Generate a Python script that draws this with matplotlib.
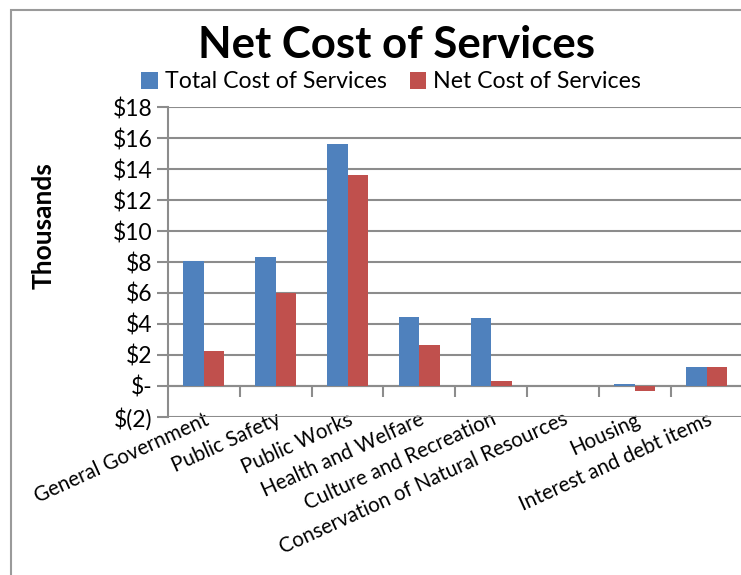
import matplotlib
matplotlib.use("Agg")
import matplotlib.pyplot as plt
from matplotlib.patches import Rectangle
from matplotlib.ticker import FixedLocator, FuncFormatter
import numpy as np

categories = [
    "General Government",
    "Public Safety",
    "Public Works",
    "Health and Welfare",
    "Culture and Recreation",
    "Conservation of Natural Resources",
    "Housing",
    "Interest and debt items",
]
total_cost = [8.05, 8.3, 15.65, 4.45, 4.35, 0.0, 0.12, 1.2]
net_cost = [2.25, 6.0, 13.65, 2.65, 0.3, 0.0, -0.35, 1.2]
y_ticks = list(range(-2, 19, 2))

BLUE = "#4F81BD"
RED = "#C0504D"
GRID = "#8C8C8C"

plt.rcParams["font.family"] = ["Lato", "DejaVu Sans"]


def money(v, _pos):
    if v == 0:
        return "$-"
    if v < 0:
        return f"$({abs(v):.0f})"
    return f"${v:.0f}"


fig = plt.figure(figsize=(7.41, 5.75), dpi=100)
W, H = 741, 575

# outer chart border (right/bottom run off the picture)
fig.patches.append(Rectangle((11 / W, -0.1), 1.2, 1 - 10 / H + 0.1,
                             transform=fig.transFigure, fill=False,
                             edgecolor="#9A9A9A", linewidth=1.5))

ax = fig.add_axes([168 / W, 1 - 416.7 / H, 574.5 / W, (416.7 - 107.3) / H])

x = np.arange(len(categories))
w = 1 / 3.5
ax.bar(x - w / 2, total_cost, width=w, color=BLUE, label="Total Cost of Services", zorder=3)
ax.bar(x + w / 2, net_cost, width=w, color=RED, label="Net Cost of Services", zorder=3)

ax.set_xlim(-0.5, len(categories) - 0.5)
ax.set_ylim(-2, 18)
ax.set_yticks(y_ticks)
ax.yaxis.set_major_formatter(FuncFormatter(money))
ax.grid(axis="y", color=GRID, linewidth=1.5, zorder=0)
ax.tick_params(axis="y", length=8, width=1.5, color=GRID, labelsize=16.5, pad=3)

for side in ("top", "right"):
    ax.spines[side].set_visible(False)
ax.spines["left"].set_color(GRID)
ax.spines["left"].set_linewidth(1.5)
ax.spines["bottom"].set_position(("data", 0))
ax.spines["bottom"].set_color(GRID)
ax.spines["bottom"].set_linewidth(1.5)

ax.xaxis.set_major_locator(FixedLocator(np.arange(0.5, len(categories) - 1, 1.0)))
ax.xaxis.set_minor_locator(FixedLocator(x))
ax.xaxis.set_major_formatter(FuncFormatter(lambda v, p: ""))
ax.set_xticklabels(categories, minor=True, rotation=24.5, ha="right", va="top",
                   rotation_mode="anchor", fontsize=14.8)
ax.tick_params(axis="x", which="major", length=8, width=1.5, color=GRID, direction="out")
ax.tick_params(axis="x", which="minor", length=0, pad=17)

ax.set_ylabel("Thousands", fontsize=19, fontweight="bold")
ax.yaxis.set_label_coords(-0.196, 0.617)

fig.text(397 / W, 1 - 45 / H, "Net Cost of Services", ha="center", va="center",
         fontsize=31.5, fontweight="bold")
fig.legend(loc="center", bbox_to_anchor=(391 / W, 1 - 82 / H), ncol=2, frameon=False,
           fontsize=16.7, handlelength=0.7, handleheight=0.7, handletextpad=0.3,
           columnspacing=1.0)

fig.savefig("out.png", dpi=100)
